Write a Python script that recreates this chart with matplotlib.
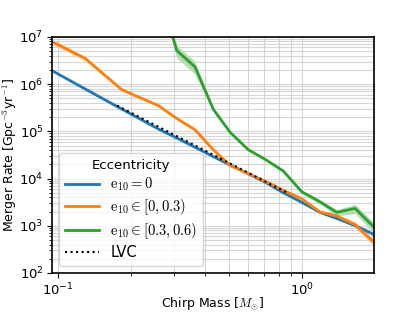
import numpy as np
import matplotlib
matplotlib.use("Agg")
import matplotlib.pyplot as plt

plt.rcParams['mathtext.fontset'] = 'cm'
plt.rcParams['font.family'] = ['DejaVu Sans']
plt.rcParams['font.size'] = 9

# Chirp mass grid (M_sun)
mass = [0.095, 0.1295, 0.183, 0.258, 0.307, 0.364, 0.433, 0.507,
        0.602, 0.704, 0.836, 0.994, 1.181, 1.382, 1.642, 1.95]

# Merger rates (Gpc^-3 yr^-1)
rate_e0 = [1.92e6, 7.9e5, 2.95e5, 1.12e5, 7.2e4, 4.6e4, 2.9e4, 1.93e4,
           1.25e4, 8.4e3, 5.0e3, 3.13e3, 1.92e3, 1.43e3, 1.01e3, 665]
rate_e03 = [7.9e6, 3.5e6, 7.6e5, 3.5e5, 1.86e5, 1.08e5, 4.05e4, 1.89e4,
            1.27e4, 8.8e3, 5.65e3, 3.72e3, 1.96e3, 1.61e3, 1.06e3, 459]
mass_e06 = [0.258, 0.307, 0.364, 0.433, 0.507, 0.602, 0.704, 0.836,
            0.994, 1.181, 1.382, 1.642, 1.95]
rate_e06 = [1.06e8, 5.1e6, 2.32e6, 2.9e5, 9.5e4, 4.05e4, 2.56e4, 1.44e4,
            5.25e3, 3.21e3, 1.92e3, 2.33e3, 962]

# fractional uncertainties (shaded bands)
err_e0 = [0.04, 0.03, 0.03, 0.03, 0.03, 0.03, 0.03, 0.03,
          0.03, 0.03, 0.03, 0.03, 0.04, 0.05, 0.06, 0.08]
err_e03 = [0.12, 0.1, 0.06, 0.05, 0.05, 0.05, 0.05, 0.05,
           0.05, 0.05, 0.05, 0.06, 0.08, 0.1, 0.14, 0.18]
err_e06 = [0.2, 0.3, 0.3, 0.08, 0.06, 0.06, 0.06, 0.07,
           0.08, 0.1, 0.15, 0.22, 0.25]

# LVC limit
mass_lvc = [0.175, 0.874]
rate_lvc = [3.5e5, 4.9e3]

labels = [r'$\mathrm{e}_{10} = 0$', r'$\mathrm{e}_{10} \in [0, 0.3)$',
          r'$\mathrm{e}_{10} \in [0.3, 0.6)$', 'LVC']
colors = ['#1f77b4', '#ff7f0e', '#2ca02c']

fig = plt.figure(figsize=(4.15, 3.12), dpi=100)
ax = fig.add_axes([0.125, 0.125, 0.776, 0.757])

series = [(mass, rate_e0, err_e0), (mass, rate_e03, err_e03), (mass_e06, rate_e06, err_e06)]
for (m, r, e), c, lab in zip(series, colors, labels[:3]):
    m = np.array(m); r = np.array(r); e = np.array(e)
    ax.fill_between(m, r * (1 - e), r * (1 + e), color=c, alpha=0.35, lw=0)
    ax.plot(m, r, color=c, lw=2, label=lab)
ax.plot(mass_lvc, rate_lvc, color='black', ls=':', lw=1.5, label=labels[3])

ax.set_xscale('log')
ax.set_yscale('log')
ax.set_xlim(0.0948, 1.96)
ax.set_ylim(1e2, 1e7)
ax.tick_params(axis='both', which='major', labelsize=9.5, pad=2.5)
ax.grid(True, which='both', color='#cccccc', lw=0.8, alpha=0.8)
ax.set_xlabel(r'Chirp Mass [$M_{\odot}$]', labelpad=-2)
ax.set_ylabel(r'Merger Rate [Gpc$^{-3}$yr$^{-1}$]', labelpad=0)
for s in ax.spines.values():
    s.set_linewidth(1.2)
ax.legend(loc='lower left', title='Eccentricity', fontsize=10.5, title_fontsize=9.5,
          framealpha=0.8, handlelength=2.3, labelspacing=0.28)

fig.savefig('out.png', dpi=100)
